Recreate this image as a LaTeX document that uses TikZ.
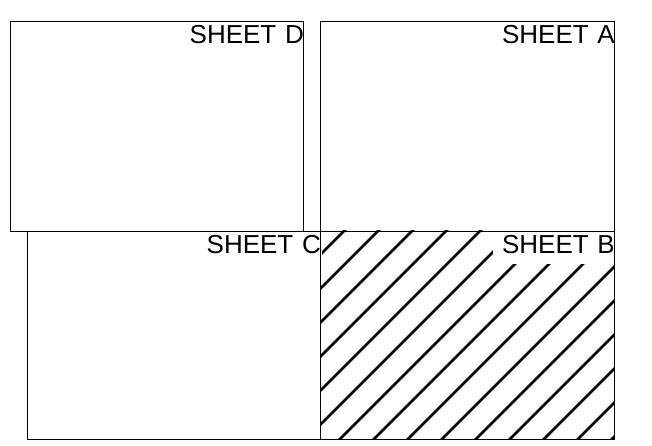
\documentclass[tikz,border=0pt]{standalone}
\usepackage{fontspec}
\setmainfont{Liberation Sans}
\usetikzlibrary{backgrounds}

\tikzset{
  sheet/.style={draw, line width=0.8pt, rectangle, inner sep=0pt, anchor=north west},
  sheetname/.style={anchor=north east, fill=white, outer sep=-1pt,
    inner xsep=1pt, inner ysep=5.5pt, text depth=5pt, text width=121pt, align=right,
    font=\fontsize{26}{31}\selectfont},
  hatchline/.style={line width=2.6pt, line cap=round}
}

\begin{document}
\begin{tikzpicture}[x=1pt, y=-1pt]
  \useasboundingbox (0,0) rectangle (652,445);

  % --- the four sheets ---
  \node[sheet, minimum width=293pt, minimum height=209.5pt] (sheetD) at (10,21) {};
  \node[sheet, minimum width=294pt, minimum height=209.5pt] (sheetA) at (320,21) {};
  \node[sheet, minimum width=293pt, minimum height=208.5pt] (sheetC) at (27,230.5) {};
  \node[sheet, minimum width=294pt, minimum height=208.5pt] (sheetB) at (320,230.5) {};

  \begin{scope}[on background layer]
    % --- hatching of sheet B ---
    \begin{scope}
      \clip (sheetB.north west) rectangle (sheetB.south east);
      \foreach \c in {575,609,...,1051}
        \draw[hatchline] (\c-470,470) -- (\c-200,200);
    \end{scope}

    % --- names, top right of each sheet ---
    \node[sheetname] (nameD) at (sheetD.north east) {SHEET D};
    \node[sheetname] (nameA) at (sheetA.north east) {SHEET A};
    \node[sheetname] (nameC) at (sheetC.north east) {SHEET C};
    \node[sheetname] (nameB) at (sheetB.north east) {SHEET B};
  \end{scope}
\end{tikzpicture}
\end{document}
